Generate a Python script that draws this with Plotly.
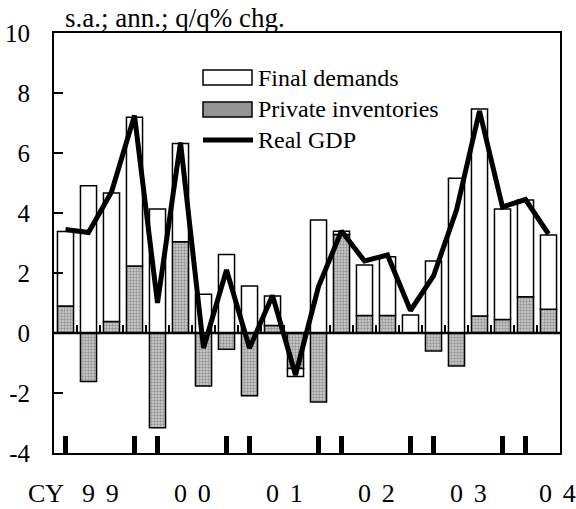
import plotly.graph_objects as go

# ---- data ----
quarters = ["1999Q1", "1999Q2", "1999Q3", "1999Q4",
            "2000Q1", "2000Q2", "2000Q3", "2000Q4",
            "2001Q1", "2001Q2", "2001Q3", "2001Q4",
            "2002Q1", "2002Q2", "2002Q3", "2002Q4",
            "2003Q1", "2003Q2", "2003Q3", "2003Q4",
            "2004Q1", "2004Q2"]
inventories = [0.90, -1.62, 0.38, 2.23, -3.16, 3.04, -1.77, -0.54,
               -2.09, 0.25, -1.18, -2.30, 3.28, 0.58, 0.58, 0.00,
               -0.60, -1.10, 0.57, 0.45, 1.21, 0.79]
final_demands = [2.48, 4.91, 4.29, 4.96, 4.13, 3.28, 1.29, 2.62,
                 1.57, 0.98, -0.27, 3.77, 0.11, 1.69, 1.96, 0.60,
                 2.40, 5.16, 6.90, 3.68, 3.22, 2.48]
real_gdp = [3.45, 3.35, 4.70, 7.25, 1.00, 6.35, -0.50, 2.10,
            -0.50, 1.25, -1.40, 1.55, 3.40, 2.40, 2.60, 0.75,
            1.90, 4.10, 7.40, 4.20, 4.45, 3.30]
y_tickvals = [-4, -2, 0, 2, 4, 6, 8, 10]
y_ticktext = ["-4", "-2", "0", "2", "4", "6", "8", "10"]
year_labels = ["9\u2004\u200a9", "0\u2004\u200a0", "0\u2004\u200a1",
               "0\u2004\u200a2", "0\u2004\u200a3", "0\u2004\u200a4"]
cy_label = "CY"
unit_label = "s.a.; ann.; q/q% chg."
series_names = ["Final demands", "Private inventories", "Real GDP"]

FONT = "Liberation Serif"
x = list(range(len(quarters)))
xr = [-0.5, len(quarters) - 0.5]

fig = go.Figure()
fig.add_trace(go.Bar(
    x=x, y=inventories, name=series_names[1], width=0.7,
    marker=dict(color="#9a9a9a", line=dict(color="black", width=1.5),
                pattern=dict(shape=".", fgcolor="#5a5a5a", bgcolor="#d0d0d0",
                             size=3, solidity=0.5)),
    showlegend=False))
fig.add_trace(go.Bar(
    x=x, y=final_demands, name=series_names[0], width=0.7,
    marker=dict(color="white", line=dict(color="black", width=1.5)),
    showlegend=False))
fig.add_trace(go.Scatter(
    x=x, y=real_gdp, name=series_names[2], mode="lines",
    line=dict(color="black", width=5), showlegend=False))
# helper trace for the small ticks on the zero line
fig.add_trace(go.Scatter(x=[xr[0]], y=[0], xaxis="x2", mode="markers",
                         marker=dict(opacity=0), hoverinfo="skip",
                         showlegend=False))

year_marks = [i for i, q in enumerate(quarters) if q.endswith("Q1") or q.endswith("Q4")]
boundaries = [i + 0.5 for i in x[:-1]]

fig.update_layout(
    width=576, height=509,
    margin=dict(l=54, r=16, t=33, b=56, autoexpand=False),
    paper_bgcolor="white", plot_bgcolor="white",
    barmode="relative",
    font=dict(family=FONT, color="black", size=24),
    xaxis=dict(range=xr, showgrid=False, zeroline=False, automargin=False,
               showline=True, linecolor="black", linewidth=2, mirror=True,
               ticks="inside", tickvals=year_marks, ticklen=17, tickwidth=5,
               tickcolor="black", showticklabels=False),
    xaxis2=dict(range=xr, overlaying="x", anchor="free", position=4 / 14,
                side="bottom", showgrid=False, zeroline=False, showline=False,
                automargin=False,
                ticks="inside", tickvals=boundaries, ticklen=8, tickwidth=2,
                tickcolor="black", showticklabels=False),
    yaxis=dict(range=[-4, 10], tickvals=y_tickvals, ticktext=y_ticktext,
               showgrid=False, zeroline=False, automargin=False,
               showline=True, linecolor="black", linewidth=2, mirror=True,
               ticks="inside", ticklen=9, tickwidth=2, tickcolor="black",
               tickfont=dict(family=FONT, size=25), ticklabelstandoff=17),
)

# zero line
fig.add_shape(type="line", xref="x", yref="y", x0=xr[0], x1=xr[1], y0=0, y1=0,
              line=dict(color="black", width=2.5), layer="above")

# legend (drawn manually to match the large swatches)
def px_x(p):
    return (p - 54) / 506

def px_y(p):
    return (453 - p) / 420

fig.add_shape(type="rect", xref="paper", yref="paper",
              x0=px_x(203), x1=px_x(252), y0=px_y(85), y1=px_y(70),
              fillcolor="white", line=dict(color="black", width=1.5))
fig.add_shape(type="rect", xref="paper", yref="paper",
              x0=px_x(203), x1=px_x(252), y0=px_y(117), y1=px_y(102),
              fillcolor="#959595", line=dict(color="black", width=1.5))
fig.add_shape(type="line", xref="paper", yref="paper",
              x0=px_x(203), x1=px_x(253), y0=px_y(140), y1=px_y(140),
              line=dict(color="black", width=5))
for name, yy in zip(series_names, [78, 109, 140]):
    fig.add_annotation(text=name, xref="paper", yref="paper",
                       x=px_x(256), y=px_y(yy), xanchor="left", yanchor="middle",
                       showarrow=False, font=dict(family=FONT, size=24))

# unit label
fig.add_annotation(text=unit_label, xref="paper", yref="paper",
                   x=px_x(63), y=px_y(18), xanchor="left", yanchor="middle",
                   showarrow=False, font=dict(family=FONT, size=27))

# year labels
for k, lab in enumerate(year_labels):
    fig.add_annotation(text=lab, xref="x", yref="paper", x=4 * k + 1.5,
                       y=px_y(493), xanchor="center", yanchor="middle",
                       xshift=(-3 if k == len(year_labels) - 1 else 0),
                       showarrow=False, font=dict(family=FONT, size=26))
fig.add_annotation(text=cy_label, xref="paper", yref="paper", x=px_x(46),
                   y=px_y(493), xanchor="center", yanchor="middle",
                   showarrow=False, font=dict(family=FONT, size=26))

fig.write_html("out.html",
               config={"displayModeBar": False},
               post_script="document.body.style.margin='0px';"
                           "document.body.style.overflow='hidden';")
